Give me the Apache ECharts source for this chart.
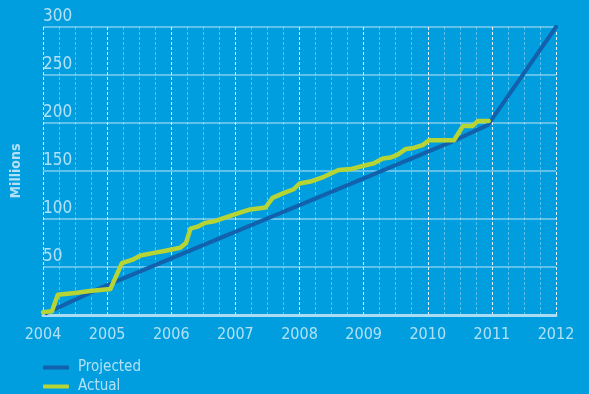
<!DOCTYPE html>
<html>
<head>
<meta charset="utf-8">
<script src="https://cdn.jsdelivr.net/npm/echarts@6/dist/echarts.min.js"></script>
<style>
html,body{margin:0;padding:0;background:#009edf;}
#c{width:589px;height:394px;}
</style>
</head>
<body>
<div id="c"></div>
<script>
var yearTicks = ['2004','2005','2006','2007','2008','2009','2010','2011','2012'];
var valueTicks = [0, 50, 100, 150, 200, 250, 300];
var seriesNames = ['Projected', 'Actual'];

var projectedYears  = [2004.05, 2004.89, 2006.0, 2007.23, 2008.02, 2010.36, 2010.94, 2012.0];
var projectedValues = [2,       28,      59,     93,      115,     180,     198,     300];

var actualYears = [2004.00, 2004.14, 2004.23, 2004.50, 2004.73, 2005.05, 2005.23, 2005.41, 2005.52, 2005.75,
                   2005.91, 2006.14, 2006.23, 2006.30, 2006.41, 2006.53, 2006.69, 2007.00, 2007.23, 2007.47,
                   2007.58, 2007.75, 2007.91, 2008.00, 2008.17, 2008.38, 2008.61, 2008.80, 2009.03, 2009.16,
                   2009.30, 2009.42, 2009.53, 2009.66, 2009.78, 2009.92, 2010.02, 2010.41, 2010.55, 2010.70,
                   2010.78, 2010.95];
var actualValues = [3, 4, 21, 23, 25, 27, 54, 58, 62, 65,
                    67, 70, 75, 90, 92, 96, 98, 105, 110, 112,
                    122, 127, 131, 137, 139, 144, 151, 152, 156, 158,
                    163, 164, 167, 173, 174, 177, 182, 182, 197, 197,
                    202, 202];

function pairs(xs, ys){ return xs.map(function(x,i){ return [x, ys[i]]; }); }

var labelColor = '#b0e1f6';
var font = '"Liberation Sans Narrow", "DejaVu Sans Condensed", Roboto, sans-serif';

var chart = echarts.init(document.getElementById('c'), null, {renderer:'canvas'});
chart.setOption({
  backgroundColor: '#009edf',
  animation: false,
  grid: {left: 43, right: 33, top: 27, bottom: 79, containLabel: false, outerBoundsMode: 'none'},
  legend: {
    orient: 'vertical', left: 43, top: 360, height: 40, padding: 0,
    itemWidth: 26, itemHeight: 4, itemGap: 4,
    icon: 'roundRect',
    textStyle: {color: labelColor, fontSize: 15, lineHeight: 15, fontFamily: font, padding: [0,0,0,4]},
    data: seriesNames
  },
  xAxis: {
    type: 'value',
    min: Number(yearTicks[0]), max: Number(yearTicks[yearTicks.length-1]), interval: 1,
    axisLine: {show: true, lineStyle: {color: '#a9ddf4', width: 3}},
    axisTick: {show: false},
    minorTick: {show: false, splitNumber: 4},
    axisLabel: {color: labelColor, fontSize: 16, fontFamily: font, margin: 12,
                formatter: function(v){ return String(Math.round(v)); }},
    splitLine: {show: true, lineStyle: {color: 'rgba(255,255,255,0.9)', width: 1, type: [3,2]}},
    minorSplitLine: {show: true, lineStyle: {color: 'rgba(255,255,255,0.35)', width: 1, type: [3,2]}}
  },
  yAxis: {
    type: 'value',
    min: valueTicks[0], max: valueTicks[valueTicks.length-1], interval: 50,
    name: 'Millions', nameLocation: 'middle', nameGap: 20, nameRotate: 90,
    nameTextStyle: {color: labelColor, fontSize: 14, fontWeight: 'bold', fontFamily: font},
    axisLine: {show: false},
    axisTick: {show: false},
    axisLabel: {inside: true, align: 'left', verticalAlign: 'bottom', margin: 0,
                padding: [0,0,2,0],
                color: labelColor, fontSize: 17, fontFamily: font,
                formatter: function(v){ return v === 0 ? '' : String(v); }},
    splitLine: {show: true, lineStyle: {color: 'rgba(255,255,255,0.5)', width: 1.5}}
  },
  series: [
    {name: seriesNames[0], type: 'line', data: pairs(projectedYears, projectedValues),
     showSymbol: false, symbol: 'none', color: '#1161ad',
     lineStyle: {color: '#1161ad', width: 4, cap: 'round', join: 'round'}, z: 2},
    {name: seriesNames[1], type: 'line', data: pairs(actualYears, actualValues),
     showSymbol: false, symbol: 'none', color: '#b6d434',
     lineStyle: {color: '#b6d434', width: 4.5, cap: 'round', join: 'round'}, z: 3}
  ]
});
</script>
</body>
</html>
